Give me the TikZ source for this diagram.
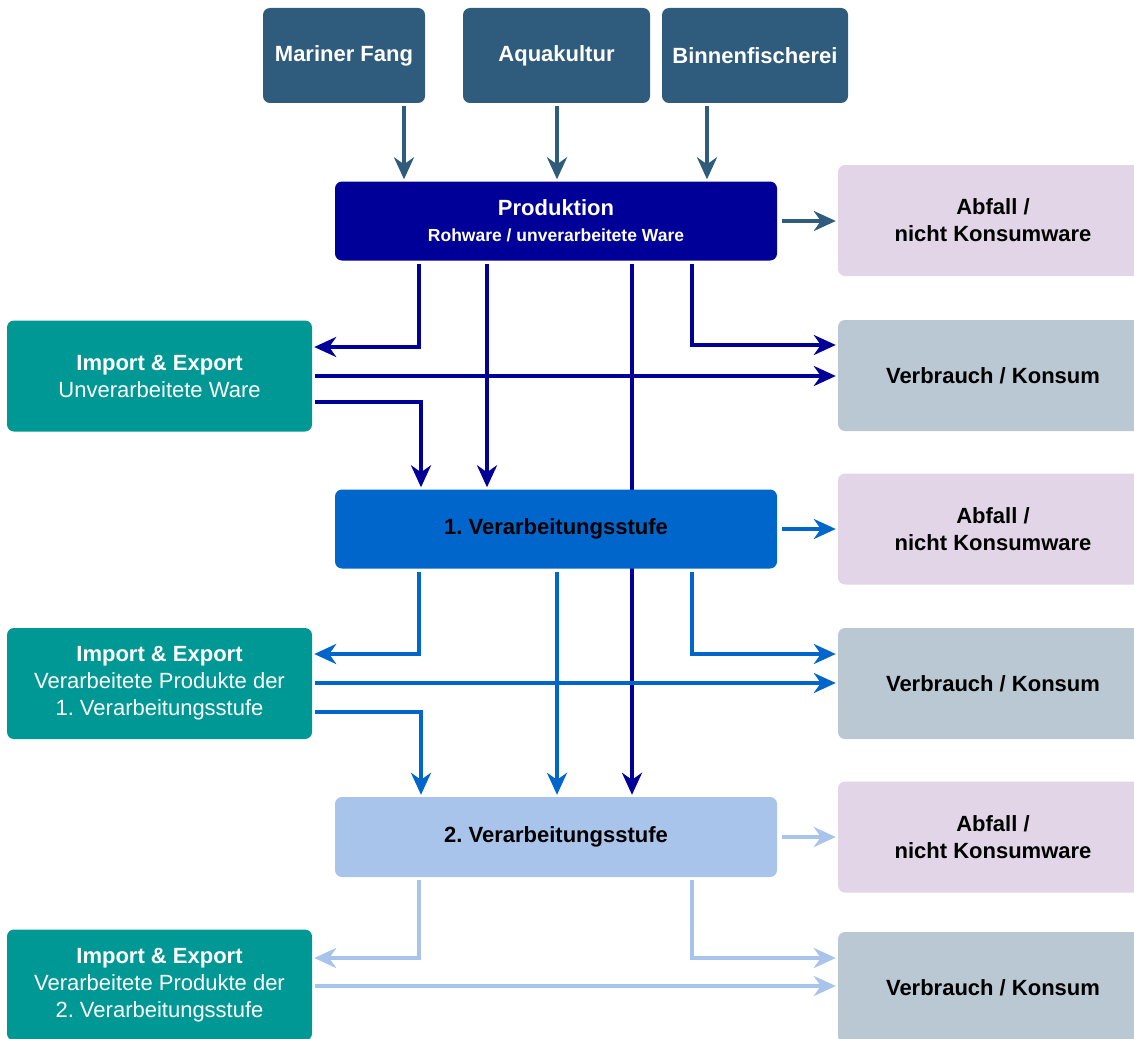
\documentclass[tikz,border=0pt]{standalone}
\usepackage{fontspec}
\setmainfont{Liberation Sans}
\usetikzlibrary{arrows.meta,backgrounds}
\frenchspacing
\definecolor{src}{HTML}{2F5B7C}
\definecolor{prodc}{HTML}{000099}
\definecolor{veraA}{HTML}{0066CC}
\definecolor{veraB}{HTML}{A9C4EB}
\definecolor{impc}{HTML}{009894}
\definecolor{abfc}{HTML}{E1D5E7}
\definecolor{verc}{HTML}{BAC8D3}
\tikzset{
  box/.style={rectangle, rounded corners=7pt, inner sep=0pt, align=center,
    font=\fontsize{22}{27}\selectfont},
  srcbox/.style={box, fill=src, text=white, font=\fontsize{22}{27}\selectfont\bfseries,
    minimum height=95pt},
  impbox/.style={box, fill=impc, text=white, minimum width=305pt, minimum height=111pt},
  abfbox/.style={box, fill=abfc, text=black, font=\fontsize{22}{27}\selectfont\bfseries,
    minimum width=310pt, minimum height=111pt},
  verbox/.style={box, fill=verc, text=black, font=\fontsize{22}{27}\selectfont\bfseries,
    minimum width=310pt, minimum height=111pt},
  stagebox/.style={box, minimum width=442pt, minimum height=79pt, font=\fontsize{22}{27}\selectfont\bfseries},
  flow/.style={line width=3.5pt, shorten <=3pt, shorten >=2pt,
    -{Stealth[length=22pt,width=20pt,inset=7pt]}},
}
\begin{document}
\begin{tikzpicture}[x=1pt,y=-1pt]
\useasboundingbox (0,0) rectangle (1134,1038);

% sources
\node[srcbox, minimum width=162pt] (mf) at (344,55.5) {Mariner Fang};
\node[srcbox, minimum width=187pt, text depth=0pt] (aq) at (556.5,55.5) {\raisebox{4pt}{Aquakultur}};
\node[srcbox, minimum width=186pt] (bf) at (755,55.5) {Binnenfischerei};

% stages
\node[stagebox, fill=prodc, text=white] (prod) at (556,221)
  {Produktion\\[-1pt]{\fontsize{17.5}{22}\selectfont Rohware / unverarbeitete Ware}};
\node[stagebox, fill=veraA, text=black] (v1) at (556,529) {1. Verarbeitungsstufe};
\node[stagebox, fill=veraB, text=black, minimum height=80pt] (v2) at (556,837) {2. Verarbeitungsstufe};

% waste
\node[abfbox] (ab1) at (993,220.5) {Abfall /\\nicht Konsumware};
\node[abfbox] (ab2) at (993,529) {Abfall /\\nicht Konsumware};
\node[abfbox] (ab3) at (993,837) {Abfall /\\nicht Konsumware};

% consumption
\node[verbox] (vb1) at (993,375.5) {Verbrauch / Konsum};
\node[verbox] (vb2) at (993,683.5) {Verbrauch / Konsum};
\node[verbox] (vb3) at (993,987.5) {Verbrauch / Konsum};

% import & export
\node[impbox] (imp1) at (159.5,376) {\textbf{Import \& Export}\\Unverarbeitete Ware};
\node[impbox] (imp2) at (159.5,683.5) {\textbf{Import \& Export}\\Verarbeitete Produkte der\\1. Verarbeitungsstufe};
\node[impbox] (imp3) at (159.5,985) {\textbf{Import \& Export}\\Verarbeitete Produkte der\\2. Verarbeitungsstufe};

\begin{scope}[on background layer]
% sources to production
\draw[flow, src] (mf.south -| 404,0) -- (prod.north -| 404,0);
\draw[flow, src] (aq.south -| 557,0) -- (prod.north -| 557,0);
\draw[flow, src] (bf.south -| 707,0) -- (prod.north -| 707,0);
\draw[flow, src, shorten <=5pt] (prod.east) -- (ab1.west |- prod.east);

% production
\draw[flow, prodc] (prod.south -| 419,0) |- (imp1.east |- 0,347);
\draw[flow, prodc] (prod.south -| 487,0) -- (v1.north -| 487,0);
\draw[flow, prodc] (prod.south -| 632,0) -- (v2.north -| 632,0);
\draw[flow, prodc] (prod.south -| 692,0) |- (vb1.west |- 0,345);
\draw[flow, prodc] (imp1.east |- 0,376) -- (vb1.west |- 0,376);
\draw[flow, prodc] (imp1.east |- 0,402) -| (v1.north -| 421,0);

% stage 1
\draw[flow, veraA, shorten <=5pt] (v1.east) -- (ab2.west |- v1.east);
\draw[flow, veraA] (v1.south -| 419,0) |- (imp2.east |- 0,654);
\draw[flow, veraA] (v1.south -| 557,0) -- (v2.north -| 557,0);
\draw[flow, veraA] (v1.south -| 692,0) |- (vb2.west |- 0,654);
\draw[flow, veraA] (imp2.east |- 0,683) -- (vb2.west |- 0,683);
\draw[flow, veraA] (imp2.east |- 0,712) -| (v2.north -| 421,0);

% stage 2
\draw[flow, veraB, shorten <=5pt] (v2.east) -- (ab3.west |- v2.east);
\draw[flow, veraB] (v2.south -| 419,0) |- (imp3.east |- 0,958);
\draw[flow, veraB] (v2.south -| 692,0) |- (vb3.west |- 0,958);
\draw[flow, veraB] (imp3.east |- 0,986) -- (vb3.west |- 0,986);
\end{scope}
\end{tikzpicture}
\end{document}
